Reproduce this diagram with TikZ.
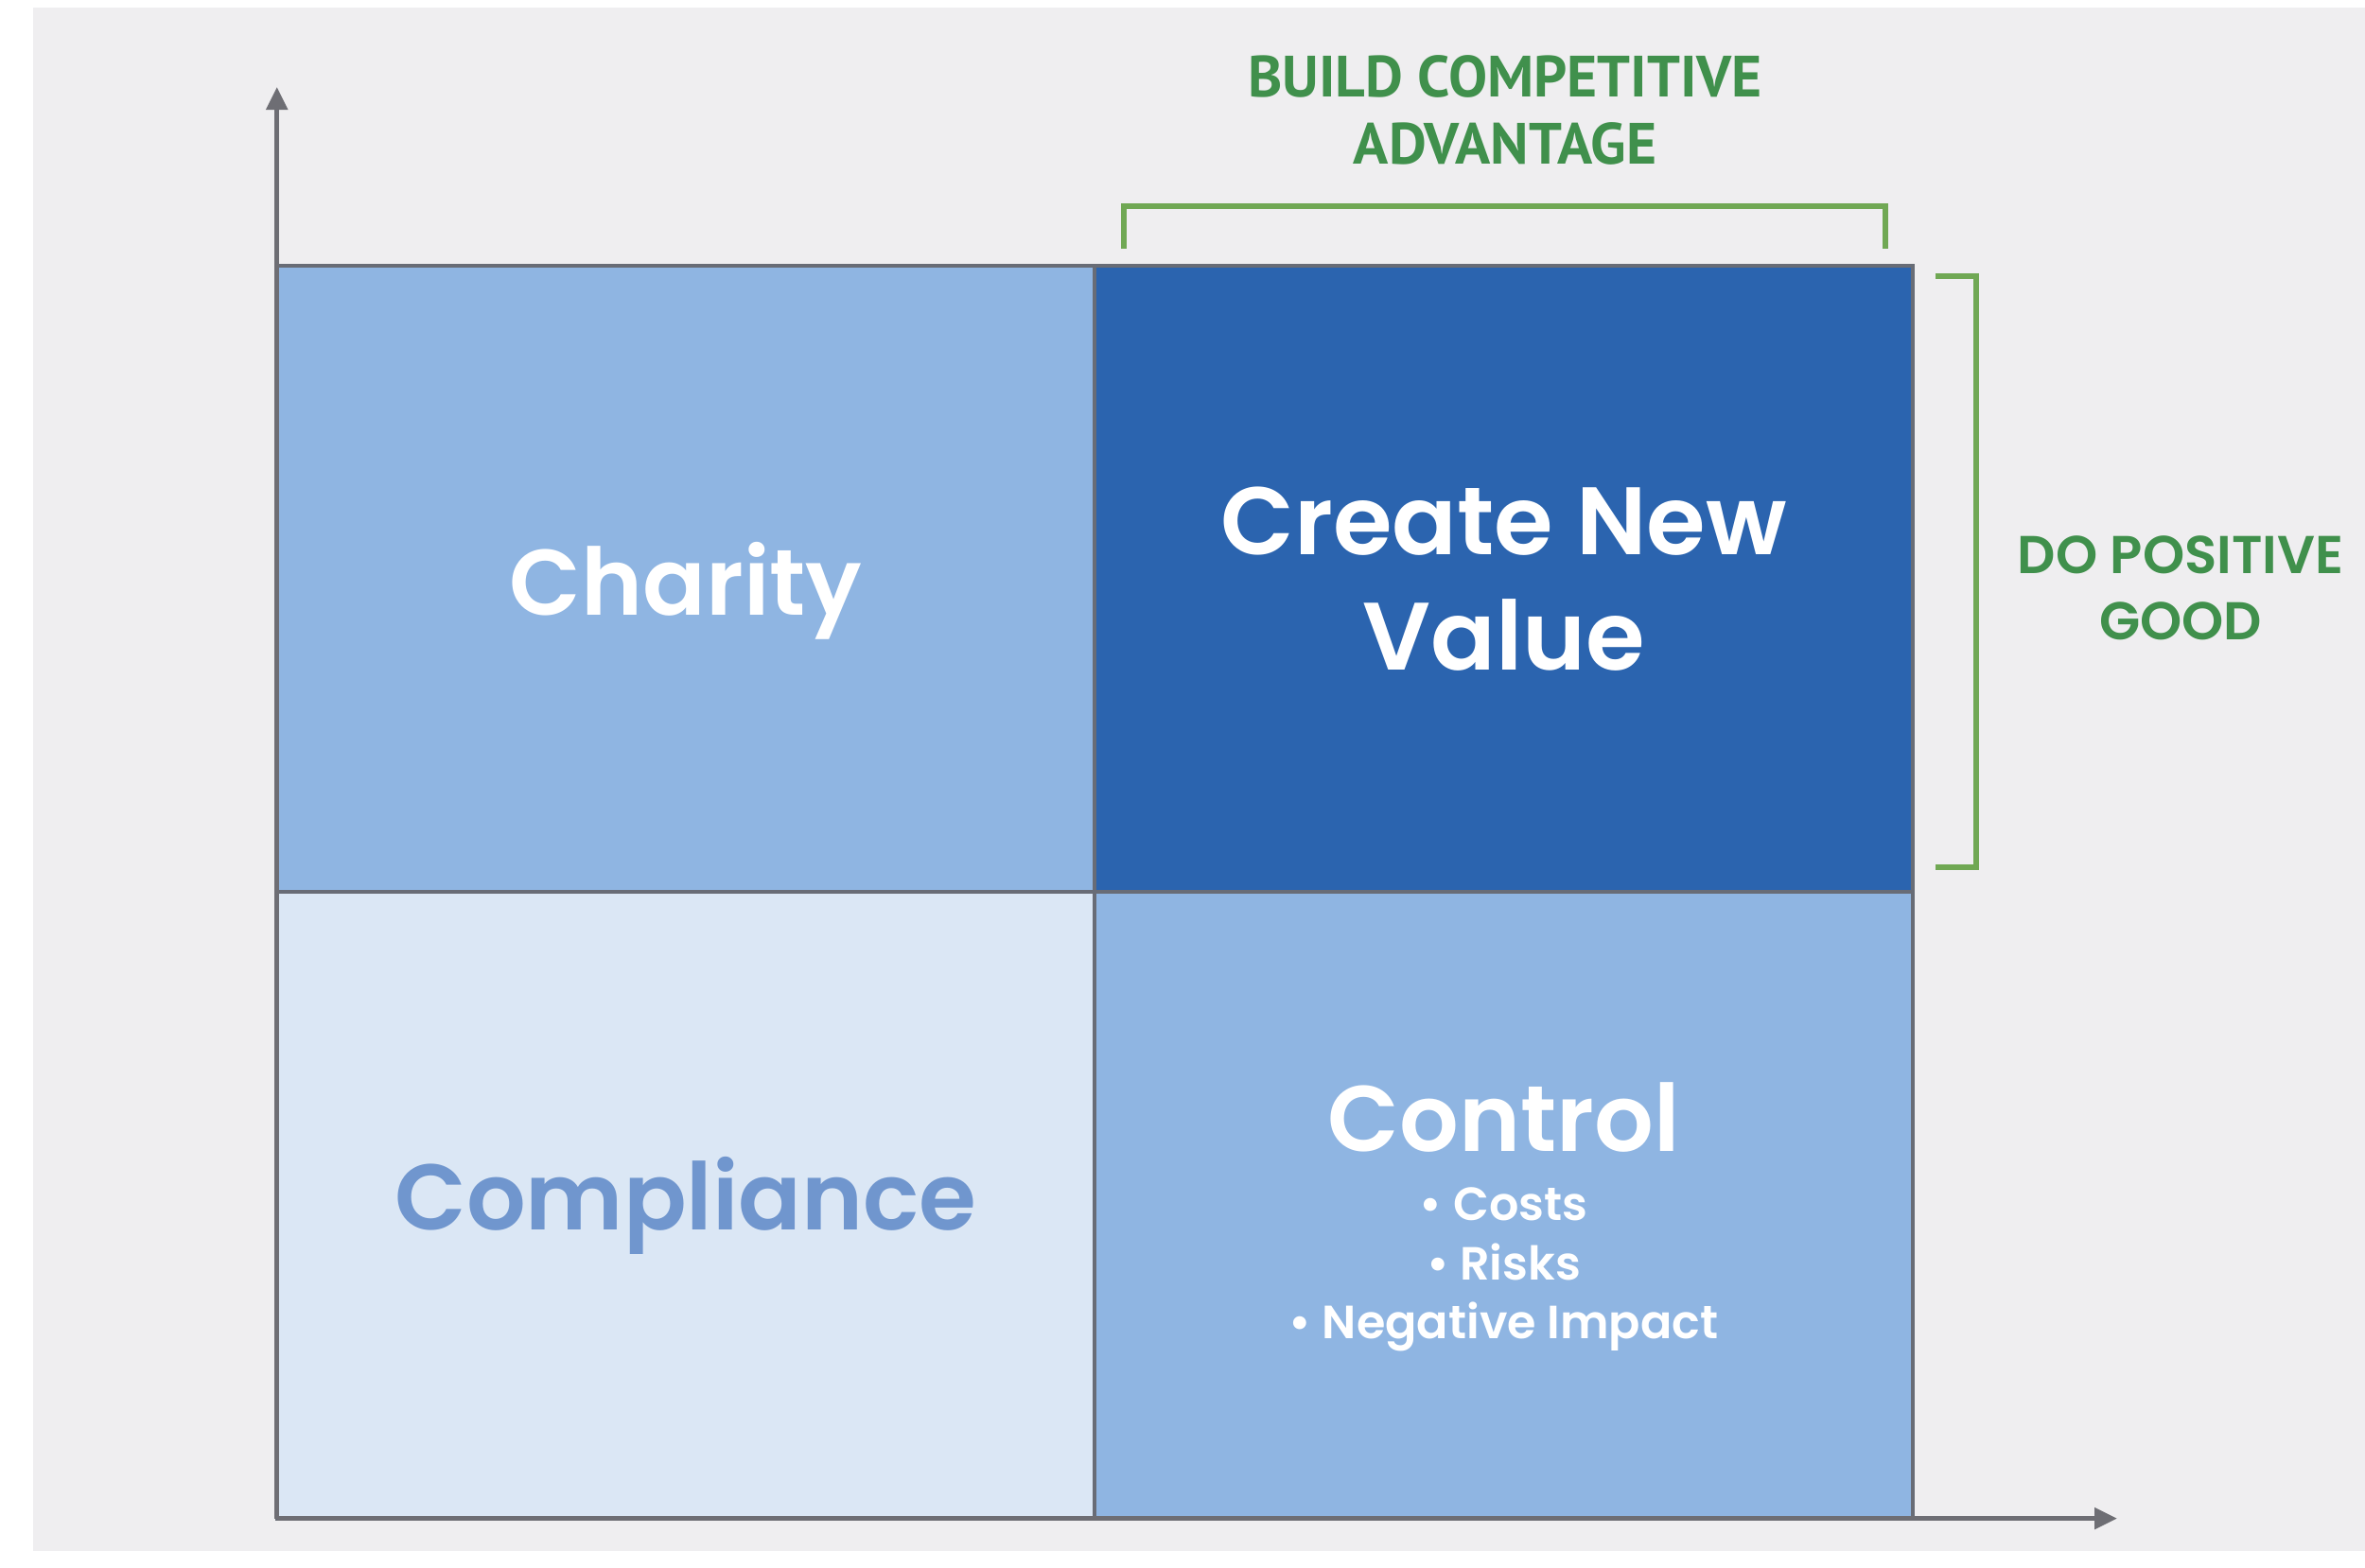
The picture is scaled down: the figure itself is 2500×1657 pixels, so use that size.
\documentclass[tikz,border=0pt]{standalone}
\usepackage{fontspec}
\setmainfont{Poppins}[BoldFont={Poppins SemiBold}]
\newfontfamily\narrowfont{PT Sans}
\usetikzlibrary{arrows.meta,positioning}

\definecolor{paper}{RGB}{239,238,240}
\definecolor{gridline}{RGB}{104,108,118}
\definecolor{axisgrey}{RGB}{110,110,116}
\definecolor{paleblue}{RGB}{219,231,245}
\definecolor{midblue}{RGB}{143,181,226}
\definecolor{deepblue}{RGB}{43,100,175}
\definecolor{softtext}{RGB}{112,150,206}
\definecolor{leafgreen}{RGB}{64,144,76}
\definecolor{bracketgreen}{RGB}{112,168,84}

\tikzstyle{cell} = [draw=gridline, line width=1.2pt, outer sep=0pt, minimum width=8.64cm, minimum height=6.62cm, inner sep=0pt, align=center, text=white, font=\bfseries\fontsize{28}{34.5}\selectfont]
\tikzstyle{sub} = [inner sep=0pt, align=center, text=white, font=\bfseries\fontsize{14}{17.8}\selectfont]
\tikzstyle{axis} = [draw=axisgrey, line width=1.5pt, -{Triangle[length=0.24cm,width=0.22cm]}]
\tikzstyle{bracket} = [draw=bracketgreen, line width=1.5pt]
\tikzstyle{tag} = [inner sep=0pt, align=center, text=leafgreen]

\begin{document}
\begin{tikzpicture}[x=0.01cm, y=-0.01cm]
\useasboundingbox (0,0) rectangle (2500,1657);
\fill[white] (0,0) rectangle (2500,1657);
\fill[paper] (35,8) rectangle (2500,1640);

\node[cell, fill=midblue, text depth=0pt] (charity) at (725,612) {Charity};
\node[cell, fill=deepblue, right=0pt of charity, font=\bfseries\fontsize{28.8}{34.8}\selectfont] (value) {Create New\\Value};
\node[cell, fill=paleblue, text=softtext, below=0pt of charity] (compliance) {Compliance};
\node[cell, fill=midblue, below=0pt of value] (control) {};

\node[sub, font=\bfseries\fontsize{28}{34.5}\selectfont] (ctitle) at ([yshift=0.93cm]control.center) {Control};
\node[sub] (clist) at ([yshift=-0.68cm]control.center) {\textbullet\ Costs\\\textbullet\ Risks\\\textbullet\ Negative Impact};

\coordinate (ytip) at (293,92);
\coordinate (xtip) at (2238,1603);
\draw[axis] (compliance.south west) -- (compliance.south west |- ytip);
\draw[axis] (compliance.south west) -- (compliance.south west -| xtip);

\draw[bracket] (1188,263) |- (1993,218) -- (1993,263);
\draw[bracket] (2046,292) -| (2089,917) -- (2046,917);

\node[tag, font=\narrowfont\bfseries\fontsize{17.5}{20.2}\selectfont] (advantage) at (1591,116) {BUILD COMPETITIVE\\ADVANTAGE};
\node[tag, font=\bfseries\fontsize{16}{20}\selectfont] (good) at (2305,622) {DO POSITIVE\\GOOD};
\end{tikzpicture}
\end{document}
